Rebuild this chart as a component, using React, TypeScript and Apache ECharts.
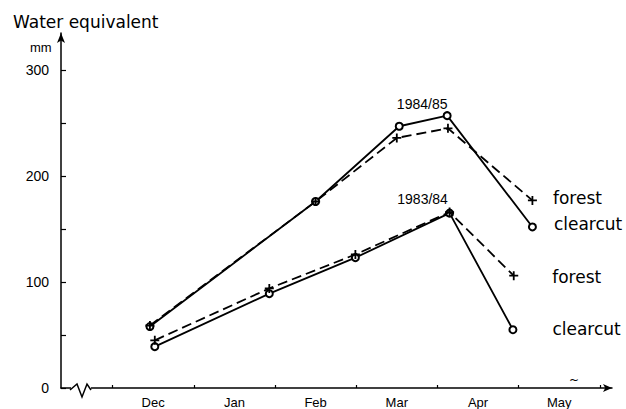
import React, { useEffect, useRef } from "react";
import * as echarts from "echarts";

// x values: months counted from 1 December (0 = Dec 1, 1 = Jan 1, ...)
const monthNames = ["Dec", "Jan", "Feb", "Mar", "Apr", "May"];
const monthLabelValues = [0.5, 1.5, 2.5, 3.5, 4.5, 5.5];
const monthTickValues = [0, 1, 2, 3, 4, 5, 6];
const yTickValues = [0, 50, 100, 150, 200, 250, 300];
const yLabelValues = [0, 100, 200, 300];

const clearcut8485X = [0.46, 2.5, 3.53, 4.12, 5.17];
const clearcut8485Y = [58, 176, 247, 257, 152];
const forest8485X = [0.46, 2.5, 3.5, 4.13, 5.17];
const forest8485Y = [59, 176, 236, 245, 177];

const clearcut8384X = [0.52, 1.93, 2.99, 4.15, 4.93];
const clearcut8384Y = [39, 89, 123, 165, 55];
const forest8384X = [0.52, 1.93, 2.99, 4.15, 4.94];
const forest8384Y = [45, 94, 126, 166, 106];

const seasonLabels = ["1984/85", "1983/84"];
const treatmentLabels = ["forest", "clearcut"];

const PLUS = "path://M4,0H6V4H10V6H6V10H4V6H0V4H4Z";
const TEXT_FONT = "DejaVu Sans";
const NUM_FONT = "Liberation Sans";

function makeData(
  xs: number[],
  ys: number[],
  endText: string,
  endDistance: number,
  endDy: number,
  yearText?: string,
  yearIdx?: number,
  yearDx?: number,
  yearDist?: number
) {
  return xs.map((x, i) => {
    const item: any = { value: [x, ys[i]] };
    if (i === xs.length - 1) {
      item.label = {
        show: true,
        position: "right",
        distance: endDistance,
        offset: [0, endDy],
        formatter: endText,
        fontFamily: TEXT_FONT,
        fontSize: 17,
        color: "#000",
      };
    } else if (yearText && i === yearIdx) {
      item.label = {
        show: true,
        position: "top",
        distance: yearDist,
        offset: [yearDx, 0],
        formatter: yearText,
        fontFamily: NUM_FONT,
        fontSize: 14,
        color: "#000",
      };
    }
    return item;
  });
}

export default function App() {
  const ref = useRef<HTMLDivElement>(null);

  useEffect(() => {
    document.body.style.margin = "0";
    const chart = echarts.init(ref.current!, null, { renderer: "svg" });

    const solid = { color: "#000", width: 1.8, type: "solid" as const };
    const dashed = { color: "#000", width: 1.8, type: [10, 5] as any };

    const option: any = {
      animation: false,
      backgroundColor: "#fff",
      title: [
        {
          text: "Water equivalent",
          left: 8,
          top: 8,
          textStyle: { fontFamily: TEXT_FONT, fontSize: 17, fontWeight: "normal", color: "#000" },
        },
        {
          text: "mm",
          left: 25,
          top: 36,
          textStyle: { fontFamily: NUM_FONT, fontSize: 13, fontWeight: "normal", color: "#000" },
        },
      ],
      grid: { left: 61, right: 14, top: 33, bottom: 19, containLabel: false },
      xAxis: {
        type: "value",
        min: -0.635,
        max: 6.15,
        axisLine: {
          show: true,
          onZero: false,
          lineStyle: { color: "#000", width: 1.5 },
          symbol: ["none", "arrow"],
          symbolSize: [6, 9],
        },
        axisTick: {
          show: true,
          inside: true,
          length: 3,
          customValues: monthTickValues,
          lineStyle: { color: "#000", width: 1.2 },
        },
        axisLabel: {
          show: true,
          customValues: monthLabelValues,
          formatter: (v: number) => monthNames[Math.floor(v)] ?? "",
          fontFamily: NUM_FONT,
          fontSize: 13,
          color: "#000",
          margin: 8,
        },
        splitLine: { show: false },
      },
      yAxis: {
        type: "value",
        min: 0,
        max: 335,
        axisLine: {
          show: true,
          onZero: false,
          lineStyle: { color: "#000", width: 1.5 },
          symbol: ["none", "arrow"],
          symbolSize: [6, 10],
        },
        axisTick: {
          show: true,
          inside: true,
          length: 5,
          customValues: yTickValues,
          lineStyle: { color: "#000", width: 1.2 },
        },
        axisLabel: {
          show: true,
          customValues: yLabelValues,
          fontFamily: NUM_FONT,
          fontSize: 14,
          color: "#000",
          margin: 12,
        },
        splitLine: { show: false },
      },
      graphic: [
        {
          type: "rect",
          z: 100,
          shape: { x: 71, y: 387, width: 20, height: 6 },
          style: { fill: "#fff" },
        },
        {
          type: "polyline",
          z: 101,
          shape: { points: [[70, 390], [77, 384], [82, 397], [87, 384], [91, 390]] },
          style: { stroke: "#000", lineWidth: 1.5, fill: "none" },
        },
        {
          type: "text",
          z: 101,
          x: 569,
          y: 374,
          style: { text: "~", fontSize: 12, fill: "#000", fontFamily: TEXT_FONT },
        },
      ],
      series: [
        {
          type: "line",
          name: "clearcut 1984/85",
          data: makeData(clearcut8485X, clearcut8485Y, treatmentLabels[1], 17, -3, seasonLabels[0], 3, -25, 0),
          symbol: "emptyCircle",
          symbolSize: 7,
          itemStyle: { color: "#000", borderWidth: 1.5 },
          lineStyle: solid,
          z: 3,
        },
        {
          type: "line",
          name: "forest 1984/85",
          data: makeData(forest8485X, forest8485Y, treatmentLabels[0], 16, -2),
          symbol: PLUS,
          symbolSize: 9,
          itemStyle: { color: "#000" },
          lineStyle: dashed,
          z: 4,
        },
        {
          type: "line",
          name: "clearcut 1983/84",
          data: makeData(clearcut8384X, clearcut8384Y, treatmentLabels[1], 35, -1, seasonLabels[1], 3, -27, 3),
          symbol: "emptyCircle",
          symbolSize: 7,
          itemStyle: { color: "#000", borderWidth: 1.5 },
          lineStyle: solid,
          z: 3,
        },
        {
          type: "line",
          name: "forest 1983/84",
          data: makeData(forest8384X, forest8384Y, treatmentLabels[0], 34, 1),
          symbol: PLUS,
          symbolSize: 9,
          itemStyle: { color: "#000" },
          lineStyle: dashed,
          z: 4,
        },
      ],
    };

    chart.setOption(option);
    return () => chart.dispose();
  }, []);

  return <div ref={ref} style={{ width: 626, height: 409 }} />;
}
